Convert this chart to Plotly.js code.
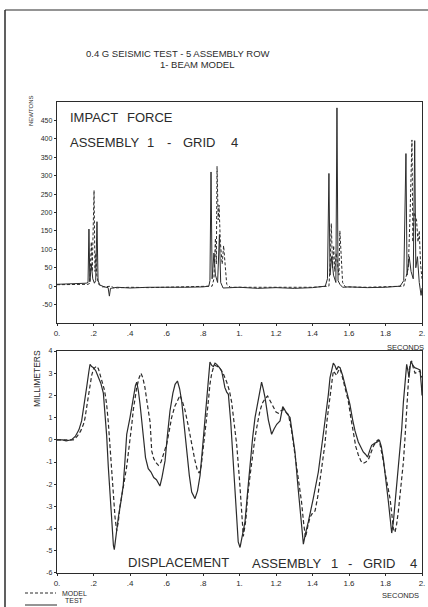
<!DOCTYPE html>
<html>
<head>
<meta charset="utf-8">
<script src="https://cdn.plot.ly/plotly-3.0.1.min.js"></script>
<style>html,body{margin:0;padding:0;background:#fff;}#chart{width:428px;height:607px;}</style>
</head>
<body>
<div id="chart"></div>
<script>
// ---- Impact force (Newtons) ----
const forceTestT = [0,0.1,0.16,0.17,0.175,0.18,0.188,0.196,0.205,0.212,0.219,0.225,0.235,0.26,0.28,0.287,0.293,0.33,0.4,0.5,0.6,0.7,0.8,0.832,0.838,0.844,0.85,0.86,0.868,0.88,0.89,0.897,0.91,1.0,1.1,1.2,1.3,1.4,1.47,1.482,1.49,1.496,1.505,1.515,1.528,1.534,1.54,1.55,1.565,1.6,1.7,1.8,1.88,1.9,1.912,1.918,1.93,1.94,1.952,1.96,1.966,1.975,1.985,1.995,2.0];
const forceTestV = [5,6,8,10,155,12,60,20,8,15,175,15,3,-2,-4,-27,-6,-3,-5,-3,-4,-3,-2,0,15,310,20,90,30,10,140,10,-5,-3,-6,-4,-6,-4,0,20,306,30,80,30,10,484,15,5,-3,-2,-4,-3,0,15,360,30,80,40,20,395,50,80,10,-25,-5];
const forceModelT = [0,0.1,0.17,0.18,0.188,0.193,0.198,0.203,0.208,0.213,0.218,0.228,0.25,0.3,0.31,0.4,0.5,0.6,0.7,0.8,0.85,0.86,0.868,0.873,0.877,0.883,0.888,0.895,0.905,0.913,0.92,0.93,0.95,1.0,1.2,1.4,1.49,1.497,1.503,1.51,1.516,1.522,1.53,1.545,1.55,1.558,1.565,1.58,1.7,1.9,1.925,1.935,1.945,1.95,1.957,1.97,1.978,1.985,1.992,2.0];
const forceModelV = [4,4,5,8,120,40,160,260,40,90,30,5,-2,0,-5,-3,-4,-3,-3,-2,0,20,130,60,325,180,220,120,60,110,60,5,-3,-3,-4,-3,0,60,170,50,110,40,90,30,150,60,10,-2,-3,0,50,200,397,120,200,180,120,150,60,20];

// ---- Displacement (millimeters) ----
const dispTestT = [0,0.03,0.05,0.08,0.1,0.12,0.135,0.15,0.163,0.175,0.181,0.19,0.2,0.213,0.227,0.24,0.254,0.263,0.272,0.281,0.29,0.3,0.309,0.314,0.322,0.336,0.35,0.363,0.372,0.382,0.4,0.418,0.43,0.437,0.446,0.455,0.464,0.475,0.485,0.5,0.515,0.53,0.545,0.556,0.564,0.575,0.592,0.605,0.619,0.635,0.647,0.66,0.672,0.683,0.697,0.71,0.725,0.738,0.756,0.77,0.784,0.797,0.81,0.82,0.829,0.838,0.848,0.857,0.866,0.875,0.89,0.902,0.912,0.92,0.93,0.939,0.952,0.966,0.98,0.993,1.003,1.015,1.03,1.045,1.058,1.072,1.085,1.103,1.121,1.13,1.14,1.158,1.176,1.19,1.204,1.222,1.237,1.248,1.258,1.277,1.29,1.304,1.318,1.332,1.342,1.35,1.362,1.377,1.404,1.432,1.459,1.473,1.487,1.496,1.505,1.514,1.523,1.532,1.541,1.551,1.565,1.578,1.592,1.605,1.62,1.633,1.651,1.665,1.678,1.69,1.702,1.713,1.724,1.742,1.755,1.766,1.777,1.788,1.797,1.807,1.816,1.825,1.834,1.843,1.852,1.861,1.87,1.88,1.889,1.898,1.907,1.916,1.923,1.929,1.935,1.94,1.95,1.96,1.975,1.989,1.997,2.0];
const dispTestV = [0,0,-0.05,0,0.15,0.45,0.85,1.6,2.4,3.1,3.4,3.3,3.25,3.1,2.85,2.55,2.1,1.2,0.2,-1.2,-2.5,-3.8,-4.75,-4.95,-4.3,-3.5,-2.8,-2.05,-1.0,0.25,1.0,2.0,2.45,2.6,2.2,1.6,1.0,0,-0.8,-1.3,-1.45,-1.7,-1.8,-2.0,-2.08,-1.7,-0.95,0.2,1.3,2.1,2.5,2.65,2.3,1.75,0.6,-0.65,-1.6,-2.35,-2.65,-2.3,-1.6,-0.4,0.85,2.0,2.85,3.5,3.35,3.3,3.45,3.4,3.25,3.1,2.7,2.35,2.15,2.05,0.8,-1.0,-3.0,-4.6,-4.85,-4.3,-3.7,-2.3,-1.0,0.1,1.0,1.75,2.6,2.3,1.9,0.9,0.25,0.5,0.7,0.85,1.5,1.35,1.2,1.0,0.3,-0.55,-1.9,-3.3,-4.3,-4.7,-4.2,-3.7,-2.65,-1.45,0.25,1.1,2.05,2.8,3.2,3.45,3.35,3.15,3.3,3.25,2.9,2.5,2.05,1.6,0.9,0.4,-0.1,-0.3,-0.55,-0.65,-0.78,-0.5,-0.25,-0.15,-0.1,0,-0.3,-0.85,-1.4,-2.05,-2.8,-3.5,-4.2,-3.7,-2.9,-2.2,-1.45,-0.5,0.5,1.7,2.8,3.4,3.1,2.8,3.3,3.55,3.35,3.25,3.2,3.15,2.4,2.0];
const dispModelT = [0,0.05,0.09,0.11,0.13,0.145,0.153,0.165,0.18,0.19,0.2,0.21,0.217,0.227,0.236,0.245,0.258,0.265,0.272,0.281,0.29,0.3,0.309,0.318,0.327,0.336,0.345,0.354,0.368,0.382,0.392,0.4,0.41,0.418,0.428,0.437,0.45,0.46,0.47,0.482,0.495,0.51,0.519,0.53,0.545,0.556,0.57,0.585,0.601,0.615,0.628,0.645,0.665,0.674,0.688,0.701,0.72,0.738,0.755,0.77,0.78,0.79,0.805,0.82,0.83,0.838,0.848,0.857,0.866,0.88,0.895,0.91,0.93,0.945,0.957,0.97,0.985,1.0,1.012,1.021,1.035,1.045,1.058,1.072,1.085,1.1,1.112,1.125,1.14,1.154,1.17,1.185,1.2,1.213,1.225,1.24,1.255,1.268,1.286,1.3,1.313,1.326,1.34,1.352,1.362,1.374,1.386,1.4,1.414,1.428,1.441,1.455,1.468,1.48,1.496,1.505,1.514,1.523,1.532,1.541,1.551,1.56,1.569,1.582,1.596,1.61,1.624,1.637,1.651,1.665,1.678,1.692,1.706,1.72,1.733,1.747,1.76,1.77,1.779,1.788,1.797,1.811,1.825,1.834,1.843,1.852,1.861,1.87,1.884,1.898,1.907,1.916,1.923,1.929,1.936,1.943,1.952,1.962,1.975,1.989,2.0];
const dispModelV = [0,0,0,0.15,0.4,0.7,0.95,1.6,2.4,2.9,3.2,3.3,3.32,3.2,2.95,2.65,2.3,2.0,1.6,0.8,-0.3,-1.5,-2.6,-3.5,-4.1,-3.7,-3.0,-2.5,-1.9,-1.2,-0.6,-0.05,0.7,1.35,1.9,2.35,2.8,3.0,2.8,2.35,1.6,0.8,-0.5,-0.85,-1.05,-1.15,-1.0,-0.6,-0.2,0.4,1.0,1.5,1.9,2.0,1.7,1.35,0.6,-0.25,-0.9,-1.4,-1.5,-1.2,-0.2,1.0,1.8,2.5,3.0,3.25,3.35,3.3,3.2,3.0,2.6,2.2,1.7,0.8,-0.25,-1.8,-3.6,-4.35,-3.6,-2.5,-1.6,-0.7,0.1,0.8,1.3,1.65,1.85,1.97,1.7,1.45,1.25,1.2,1.3,1.36,1.25,1.14,0.38,-0.4,-1.27,-2.0,-2.8,-3.8,-4.4,-3.9,-3.5,-3.3,-3.2,-2.6,-1.75,-0.9,-0.2,0.9,1.9,2.6,3.1,3.0,2.9,3.1,3.2,2.95,2.65,2.2,1.75,1.0,0.25,-0.3,-0.68,-0.95,-1.06,-1.0,-0.9,-0.6,-0.3,-0.1,0,-0.2,-0.53,-0.95,-1.45,-2.0,-2.65,-3.3,-4.0,-4.17,-3.8,-3.25,-2.2,-1.0,0.1,1.3,2.3,3.1,3.4,3.55,3.25,3.0,3.05,3.1,2.8];

// ---- Tick labels ----
const xTickVals = [0,0.2,0.4,0.6,0.8,1.0,1.2,1.4,1.6,1.8,2.0];
const xTickText = ['0.','.2','.4','.6','.8','1.','1.2','1.4','1.6','1.8','2.'];
const forceTickVals = [-50,0,50,100,150,200,250,300,350,400,450];
const forceTickText = ['-50','0','50','100','150','200','250','300','350','400','450'];
const dispTickVals = [-6,-5,-4,-3,-2,-1,0,1,2,3,4];
const dispTickText = ['-6','-5','-4','-3','-2','-1','0','1','2','3','4'];
const seriesNames = ['MODEL','TEST'];

const ink = '#2b2b2b';
const FONT = 'Liberation Sans, Arial, sans-serif';

const dashModel = '3px,2px';
const traces = [
  {x: forceModelT, y: forceModelV, xaxis:'x', yaxis:'y', mode:'lines', name:seriesNames[0],
   line:{color:ink, width:1, dash:dashModel}},
  {x: forceTestT, y: forceTestV, xaxis:'x', yaxis:'y', mode:'lines', name:seriesNames[1],
   line:{color:ink, width:1}},
  {x: dispModelT, y: dispModelV, xaxis:'x2', yaxis:'y2', mode:'lines', name:seriesNames[0],
   line:{color:ink, width:1.2, dash:'4px,2.5px'}},
  {x: dispTestT, y: dispTestV, xaxis:'x2', yaxis:'y2', mode:'lines', name:seriesNames[1],
   line:{color:ink, width:1.2}}
];

const axisCommon = {showline:true, mirror:true, linecolor:ink, linewidth:1.2, showgrid:false, zeroline:false,
  ticks:'outside', ticklen:2, tickcolor:ink};
const xTickFont = {family:FONT, size:8, color:ink};
const yTickFont = {family:FONT, size:7, color:ink};

function px2x(px){ return (px-57)/365; }
function py2y(py){ return (573-py)/471; }

const ann = (text, px, py, opts) => Object.assign({text:text, x:px2x(px), y:py2y(py), xref:'paper', yref:'paper',
  showarrow:false, xanchor:'left', yanchor:'middle', font:{family:FONT, size:13, color:ink}}, opts||{});
const f = (s) => ({family:FONT, size:s, color:ink});

const layout = {
  width:428, height:607,
  margin:{l:57, r:6, t:102, b:34},
  paper_bgcolor:'#fff', plot_bgcolor:'#fff',
  showlegend:false,
  xaxis: Object.assign({}, axisCommon, {domain:[0,1], anchor:'y', range:[0,2], tickvals:xTickVals, ticktext:xTickText, tickfont:xTickFont}),
  yaxis: Object.assign({}, axisCommon, {domain:[0.5308,1], anchor:'x', range:[-100,500], tickvals:forceTickVals, ticktext:forceTickText, tickfont:yTickFont}),
  xaxis2: Object.assign({}, axisCommon, {domain:[0,1], anchor:'y2', range:[0,2], tickvals:xTickVals, ticktext:xTickText, tickfont:xTickFont}),
  yaxis2: Object.assign({}, axisCommon, {domain:[0,0.4713], anchor:'x2', range:[-6,4], tickvals:dispTickVals, ticktext:dispTickText, tickfont:yTickFont}),
  annotations: [
    ann('0.4 G SEISMIC TEST - 5 ASSEMBLY ROW', 178, 53, {xanchor:'center', font:f(9.5)}),
    ann('1- BEAM MODEL', 197, 64, {xanchor:'center', font:f(9.5)}),
    ann('NEWTONS', 31, 111, {xanchor:'center', textangle:-90, font:f(6)}),
    ann('MILLIMETERS', 37, 379, {xanchor:'center', textangle:-90, font:f(8.5)}),
    // in-plot labels, top panel
    ann('IMPACT', 68, 117), ann('FORCE', 125, 117),
    ann('ASSEMBLY', 68, 142), ann('1', 145, 142), ann('-', 165, 142), ann('GRID', 181, 142), ann('4', 229, 142),
    // in-plot labels, bottom panel
    ann('DISPLACEMENT', 126, 562), ann('ASSEMBLY', 250, 563), ann('1', 329, 563), ann('-', 346, 563),
    ann('GRID', 361, 563), ann('4', 408, 563),
    ann('SECONDS', 426, 347, {xanchor:'right', font:f(7.5)}),
    ann('SECONDS', 421, 595, {xanchor:'right', font:f(7.5)}),
    // legend texts
    ann(seriesNames[0], 60, 593, {font:f(7)}),
    ann(seriesNames[1], 63, 600.5, {font:f(7)})
  ],
  shapes: [
    // scanned page border
    {type:'line', xref:'paper', yref:'paper', x0:px2x(5), x1:px2x(5), y0:py2y(10), y1:py2y(607), line:{color:ink, width:1.5}},
    {type:'line', xref:'paper', yref:'paper', x0:px2x(5), x1:px2x(428), y0:py2y(10), y1:py2y(10), line:{color:ink, width:1.2}},
    // legend samples
    {type:'line', xref:'paper', yref:'paper', x0:px2x(25), x1:px2x(56), y0:py2y(593), y1:py2y(593), line:{color:ink, width:1, dash:dashModel}},
    {type:'line', xref:'paper', yref:'paper', x0:px2x(25), x1:px2x(57), y0:py2y(605), y1:py2y(605), line:{color:ink, width:1}}
  ]
};

Plotly.newPlot('chart', traces, layout, {displayModeBar:false, staticPlot:true});
</script>
</body>
</html>
